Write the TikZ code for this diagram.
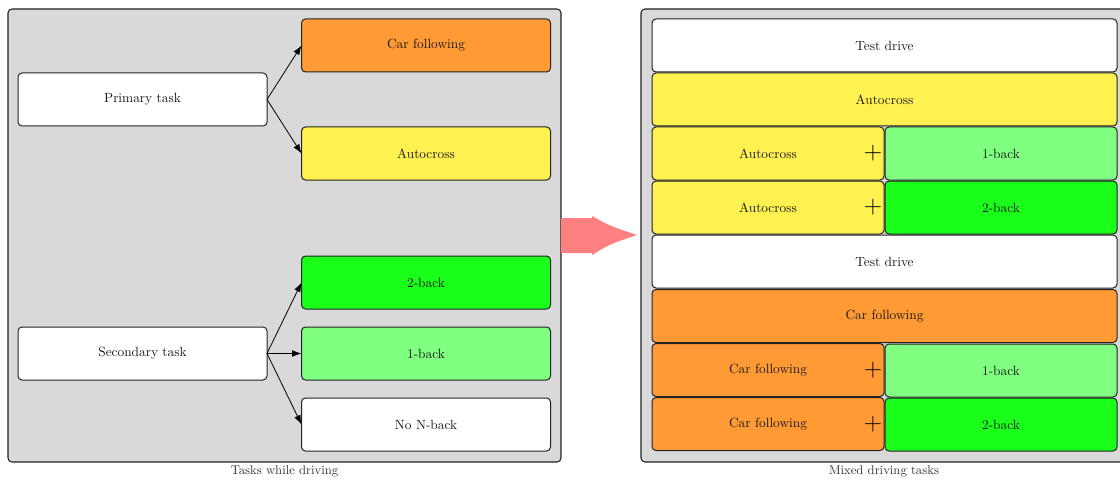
\documentclass[tikz,border=0pt]{standalone}
\usetikzlibrary{arrows.meta}
\definecolor{panelgray}{HTML}{D9D9D9}
\definecolor{carorange}{HTML}{FF9A35}
\definecolor{autoyellow}{HTML}{FFF150}
\definecolor{twogreen}{HTML}{19FF19}
\definecolor{onegreen}{HTML}{80FF80}
\definecolor{arrowpink}{HTML}{FF8080}
\definecolor{edgegray}{HTML}{222222}
\tikzset{
  panel/.style={draw=edgegray, line width=0.8pt, fill=panelgray, rounded corners=3pt},
  task/.style={draw=edgegray, line width=0.75pt, rounded corners=3pt, inner sep=0pt, outer sep=0pt,
    minimum height=39.75pt, text=black!90, font=\fontsize{10}{12}\selectfont},
  leftbox/.style={task, minimum width=186.75pt},
  widebox/.style={task, minimum width=348.75pt},
  halfbox/.style={task, minimum width=174pt},
  link/.style={draw=black, line width=0.6pt, -{Latex[length=7pt,width=5pt]}},
  plus/.style={inner sep=0pt, text=black, font=\fontsize{19}{19}\selectfont},
  caption/.style={text=black!80, font=\fontsize{9.5}{11}\selectfont}
}
\begin{document}
\begin{tikzpicture}[x=0.75pt, y=-0.75pt]
\useasboundingbox (0,0) rectangle (1120,481);
\clip (0,0) rectangle (1120,481);

% left panel: tasks and their variants
\draw[panel] (8,9) rectangle (561,462);
\node[leftbox, fill=white] (primary) at (142.5,99.5) {Primary task};
\node[leftbox, fill=white] (secondary) at (142.5,353.5) {Secondary task};
\node[leftbox, fill=carorange] (car) at (426,45.5) {Car following};
\node[leftbox, fill=autoyellow] (auto) at (426,153.5) {Autocross};
\node[leftbox, fill=twogreen] (twob) at (426,282.5) {2-back};
\node[leftbox, fill=onegreen] (oneb) at (426,353.5) {1-back};
\node[leftbox, fill=white] (nob) at (426,424.5) {No N-back};
\draw[link] (primary.east) -- (car.west);
\draw[link] (primary.east) -- (auto.west);
\draw[link] (secondary.east) -- (twob.west);
\draw[link] (secondary.east) -- (oneb.west);
\draw[link] (secondary.east) -- (nob.west);
\node[caption] (leftcap) at (284.5,471) {Tasks while driving};

% broad arrow between the panels
\fill[arrowpink] (561,218) -- (592,218) -- (592,216)
  .. controls (610,226) .. (637,235)
  .. controls (610,244) .. (592,255) -- (592,253) -- (561,253) -- cycle;

% right panel: the mixed driving schedule
\draw[panel] (641,9) rectangle (1127,462);
\node[widebox, fill=white] (r1) at (884.5,45.5) {Test drive};
\node[widebox, fill=autoyellow] (r2) at (884.5,99.5) {Autocross};
\node[halfbox, fill=autoyellow] (r3a) at (768,153.5) {Autocross};
\node[halfbox, fill=onegreen] (r3b) at (1001,153.5) {1-back};
\node[halfbox, fill=autoyellow] (r4a) at (768,207.5) {Autocross};
\node[halfbox, fill=twogreen] (r4b) at (1001,207.5) {2-back};
\node[widebox, fill=white] (r5) at (884.5,261.5) {Test drive};
\node[widebox, fill=carorange] (r6) at (884.5,316) {Car following};
\node[halfbox, fill=carorange] (r7a) at (768,370) {Car following};
\node[halfbox, fill=onegreen] (r7b) at (1001,370.5) {1-back};
\node[halfbox, fill=carorange] (r8a) at (768,424) {Car following};
\node[halfbox, fill=twogreen] (r8b) at (1001,424.5) {2-back};
\node[plus] (p3) at (873,153.5) {+};
\node[plus] (p4) at (873,207.5) {+};
\node[plus] (p7) at (873,370) {+};
\node[plus] (p8) at (873,424) {+};
\node[caption] (rightcap) at (884,471) {Mixed driving tasks};
\end{tikzpicture}
\end{document}
